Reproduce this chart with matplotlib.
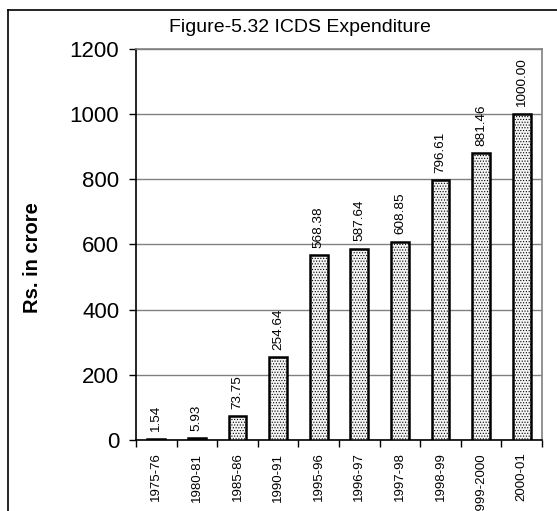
import matplotlib
matplotlib.use("Agg")
import matplotlib.pyplot as plt
from matplotlib.lines import Line2D

categories = ["1975-76", "1980-81", "1985-86", "1990-91", "1995-96",
              "1996-97", "1997-98", "1998-99", "1999-2000", "2000-01"]
values = [1.54, 5.93, 73.75, 254.64, 568.38, 587.64, 608.85, 796.61, 881.46, 1000.00]
value_labels = ["1.54", "5.93", "73.75", "254.64", "568.38", "587.64",
                "608.85", "796.61", "881.46", "1000.00"]
yticks = [0, 200, 400, 600, 800, 1000, 1200]

plt.rcParams['font.family'] = ['Liberation Sans', 'DejaVu Sans']
plt.rcParams['hatch.color'] = '#a8a8a8'
plt.rcParams['hatch.linewidth'] = 0.5

W, H = 557, 511
fig = plt.figure(figsize=(W / 100, H / 100), dpi=100)
ax = fig.add_axes([136 / W, 1 - 440 / H, (542 - 136) / W, (440 - 49) / H])

x = list(range(len(categories)))
ax.bar(x, values, width=0.44, facecolor='#f4f4f4', edgecolor='black',
       linewidth=1.8, hatch='......', zorder=3)

for xi, v, lab in zip(x, values, value_labels):
    ax.text(xi, v + 22, lab, rotation=90, ha='center', va='bottom', fontsize=9.7, zorder=4)

ax.set_xlim(-0.5, len(categories) - 0.5)
ax.set_ylim(0, 1200)
ax.set_yticks(yticks)
ax.set_yticklabels([str(t) for t in yticks], fontsize=16)
ax.yaxis.grid(True, color='#808080', linewidth=1.0, zorder=0)

ax.set_xticks(x)
ax.set_xticklabels(categories, rotation=90, fontsize=9.5)
ax.tick_params(axis='x', which='major', length=0, pad=9)
ax.set_xticks([i - 0.5 for i in range(len(categories) + 1)], minor=True)
ax.tick_params(axis='x', which='minor', length=5, width=1, direction='out', color='black')
ax.tick_params(axis='y', length=5, width=1, direction='out', pad=7)

for s in ['top', 'right']:
    ax.spines[s].set_color('#808080')
    ax.spines[s].set_linewidth(1.2)
for s in ['left', 'bottom']:
    ax.spines[s].set_color('black')
    ax.spines[s].set_linewidth(1.2)

ax.set_ylabel("Rs. in crore", fontsize=14.5, fontweight='bold')
fig.text(32 / W, 1 - 258 / H, "Rs. in crore", rotation=90, ha='center', va='center',
         fontsize=14.5, fontweight='bold')
ax.yaxis.label.set_visible(False)

fig.text(300 / W, 1 - 28 / H, "Figure-5.32 ICDS Expenditure", ha='center', va='center', fontsize=14)

# outer chart border (top and left visible)
fig.add_artist(Line2D([8 / W, 8 / W], [0, 1 - 10 / H], transform=fig.transFigure, color='black', linewidth=1.2))
fig.add_artist(Line2D([8 / W, 1.0], [1 - 10 / H, 1 - 10 / H], transform=fig.transFigure, color='black', linewidth=1.2))

fig.savefig("out.png", dpi=100)
